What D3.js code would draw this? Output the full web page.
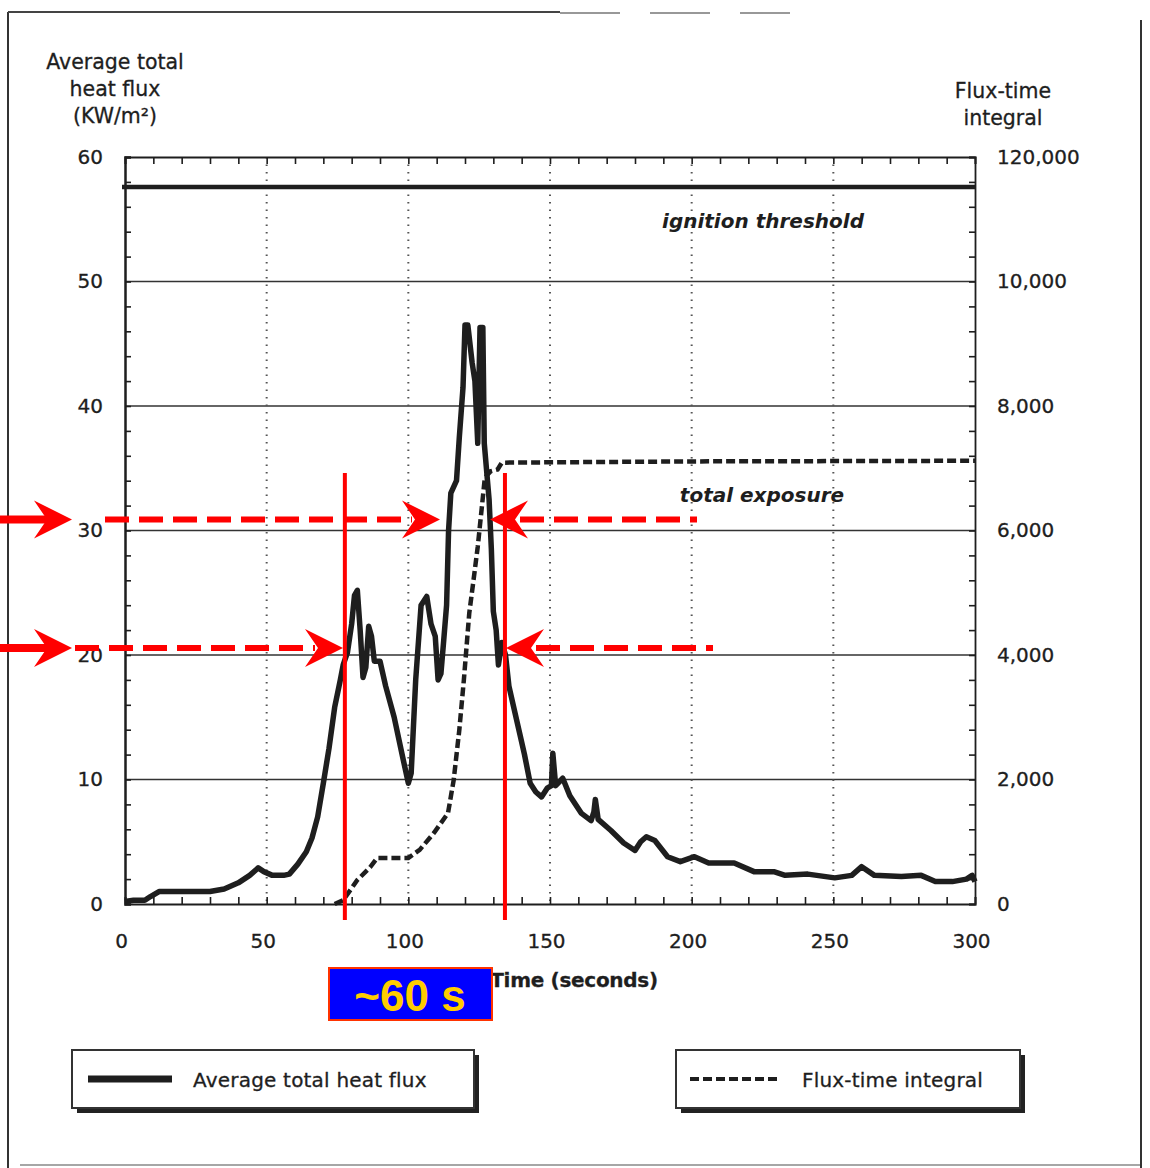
<!DOCTYPE html>
<html><head><meta charset="utf-8">
<script src="https://cdn.jsdelivr.net/npm/d3@7"></script>
<style>
html,body{margin:0;padding:0;background:#fff;}
svg{display:block;font-family:"DejaVu Sans",sans-serif;}
</style></head>
<body><svg id="c" width="1150" height="1168"></svg>
<script>
// ---- data ----
const fluxTime = [0,3,7,9,12,20,30,35,40,44,47,49,52,56,58,61,64,66,68,70,72,74,76,77,78.5,80,81,82,83,84,85,86,87,88,90,92,95,98,100,101,102.6,104.5,106.5,108,109.5,110.5,111.5,112.5,113.5,114.2,115,117,118,119.3,120,121,122.5,123.5,124.5,125.3,126.3,126.8,128.5,129.3,130,131,131.8,133,134.3,135.5,137,139.5,141,143,145,147,149,150.5,151,152,154.5,157,161,164.5,165.5,166,167,171.5,176,180,182,184,187,191.5,196,201,206,215,222,229,233,241,250.5,256.5,260,264.5,274,281,286,292,297,299,300];
const fluxValues = [0.2,0.3,0.3,0.6,1.0,1.0,1.0,1.2,1.7,2.3,2.9,2.6,2.3,2.3,2.4,3.2,4.2,5.3,7.0,9.7,12.5,15.8,18,19.2,20.2,22.5,24.8,25.2,22,18.2,19,22.3,21.5,19.5,19.5,17.5,15,11.8,9.7,10.5,18,24,24.7,22.5,21.5,18,18.5,21.2,24,30,33,34,37.5,41.5,46.5,46.5,43.5,42,37,46.3,46.3,37,32.5,28.5,23.5,22,19.2,21,20,17.5,16,13.5,12,9.7,9,8.6,9.3,9.5,12.1,9.5,10.1,8.7,7.3,6.7,7.4,8.4,6.8,5.9,4.9,4.3,5.0,5.4,5.1,3.8,3.4,3.8,3.3,3.3,2.6,2.6,2.3,2.4,2.1,2.3,3.0,2.3,2.2,2.3,1.8,1.8,2.0,2.3,1.8];
const integralTime = [74,77,82,86.5,89,100,104,109,114,116,118,119.6,121.5,123,124.5,126,127,129,131.5,133,200,300];
const integralValues = [0,60,385,590,740,740,870,1140,1460,1990,2800,3600,4670,5200,5740,6400,6850,6950,6980,7090,7110,7120];
const ignitionThreshold = 57.6;
const xTicks = [0,50,100,150,200,250,300];
const leftTicks = [0,10,20,30,40,50,60];
const rightTicks = [0,2000,4000,6000,8000,10000,12000];
const rightTickLabels = ["0","2,000","4,000","6,000","8,000","10,000","120,000"];
const gridLeft = [10,20,30,40,50];
const gridTime = [50,100,150,200,250];
const leftTitle = ["Average total","heat flux","(KW/m\u00B2)"];
const rightTitle = ["Flux-time","integral"];
const legendLabels = ["Average total heat flux","Flux-time integral"];
const annotationRows = [30,20];        // heat flux levels marked with red arrows
const annotationTimes = [77.6,134.1];  // red vertical lines (~60 s)

// ---- layout ----
const svg = d3.select("#c");
const ink = "#1e1e1e";
const X0 = 125, X1 = 975, Y0 = 904, Y1 = 157;
const x = d3.scaleLinear().domain([0,300]).range([X0,X1]);
const y = d3.scaleLinear().domain([0,60]).range([Y0,Y1]);
const yR = d3.scaleLinear().domain([0,12000]).range([Y0,Y1]);

// outer frame (scan border)
svg.append("line").attr("x1",8).attr("x2",8).attr("y1",12).attr("y2",1168).attr("stroke","#333").attr("stroke-width",2);
svg.append("line").attr("x1",1141).attr("x2",1141).attr("y1",20).attr("y2",1168).attr("stroke","#333").attr("stroke-width",2);
svg.append("line").attr("x1",8).attr("x2",560).attr("y1",12).attr("y2",12).attr("stroke","#444").attr("stroke-width",2);
svg.append("line").attr("x1",560).attr("x2",790).attr("y1",13).attr("y2",13).attr("stroke","#777").attr("stroke-width",1.5).attr("stroke-dasharray","60,30");
svg.append("line").attr("x1",20).attr("x2",1140).attr("y1",1165).attr("y2",1165).attr("stroke","#888").attr("stroke-width",1.5);

// grid
svg.append("g").selectAll("line").data(gridLeft).join("line")
  .attr("x1",X0).attr("x2",X1).attr("y1",d=>y(d)).attr("y2",d=>y(d))
  .attr("stroke","#333").attr("stroke-width",1.6);
svg.append("g").selectAll("line").data(gridTime).join("line")
  .attr("x1",d=>x(d)).attr("x2",d=>x(d)).attr("y1",Y1).attr("y2",Y0)
  .attr("stroke","#555").attr("stroke-width",2).attr("stroke-dasharray","1.5,6");

// axes
const minorT = d3.range(0,301,10), minorL = d3.range(0,61,2), minorR = d3.range(0,12001,400);
const gL = svg.append("g").attr("transform",`translate(${X0},0)`)
  .call(d3.axisRight(y).tickValues(minorL).tickSize(6).tickFormat(""));
const gR = svg.append("g").attr("transform",`translate(${X1},0)`)
  .call(d3.axisLeft(yR).tickValues(minorR).tickSize(6).tickFormat(""));
const gT = svg.append("g").attr("transform",`translate(0,${Y1})`)
  .call(d3.axisBottom(x).tickValues(minorT).tickSize(7).tickFormat(""));
const gB = svg.append("g").attr("transform",`translate(0,${Y0})`)
  .call(d3.axisTop(x).tickValues(minorT).tickSize(7).tickFormat(""));
[gL,gR,gT,gB].forEach(g=>{
  g.selectAll("line").attr("stroke",ink).attr("stroke-width",1.6);
  g.select(".domain").attr("stroke",ink).attr("stroke-width",1.8);
});
gL.select(".domain").attr("stroke-width",2.5);

// tick labels
const FONT = "'DejaVu Sans',sans-serif";
const lab = svg.append("g").attr("transform",`translate(${X0},0)`)
  .call(d3.axisLeft(y).tickValues(leftTicks).tickSize(0).tickPadding(22).tickFormat(d3.format("d")));
lab.select(".domain").remove();
const labR = svg.append("g").attr("transform",`translate(${X1},0)`)
  .call(d3.axisRight(yR).tickValues(rightTicks).tickSize(0).tickPadding(22).tickFormat((d,i)=>rightTickLabels[i]));
labR.select(".domain").remove();
const labB = svg.append("g").attr("transform",`translate(-4,${Y0})`)
  .call(d3.axisBottom(x).tickValues(xTicks).tickSize(0).tickPadding(30).tickFormat(d3.format("d")));
labB.select(".domain").remove();
[lab,labR,labB].forEach(g=>g.selectAll("text").attr("font-size",20).attr("fill",ink)
  .attr("font-family",FONT).attr("letter-spacing","0").attr("stroke",ink).attr("stroke-width",0.3));

// axis titles
const t = svg.append("g").attr("fill",ink).attr("font-size",20.5).attr("letter-spacing","0").attr("stroke",ink).attr("stroke-width",0.3);
t.selectAll("text.l").data(leftTitle).join("text").attr("class","l")
  .attr("x",115).attr("y",(d,i)=>69+i*27).attr("text-anchor","middle").text(d=>d);
t.selectAll("text.r").data(rightTitle).join("text").attr("class","r")
  .attr("x",1003).attr("y",(d,i)=>98+i*27).attr("text-anchor","middle").text(d=>d);
t.append("text").attr("x",574).attr("y",987).attr("text-anchor","middle").attr("font-size",20).attr("font-weight","bold").attr("letter-spacing","-0.3").text("Time (seconds)");

// ignition threshold
svg.append("line").attr("x1",x(0)-3).attr("x2",X1).attr("y1",y(ignitionThreshold)).attr("y2",y(ignitionThreshold))
  .attr("stroke",ink).attr("stroke-width",4.5);
svg.append("text").attr("x",763).attr("y",228).attr("text-anchor","middle").attr("font-size",20)
  .attr("font-style","italic").attr("font-weight","bold").attr("fill",ink).attr("letter-spacing","0").text("ignition threshold");
svg.append("text").attr("x",762).attr("y",502).attr("text-anchor","middle").attr("font-size",20)
  .attr("font-style","italic").attr("font-weight","bold").attr("fill",ink).attr("letter-spacing","0").text("total exposure");

// series
const fluxData = fluxTime.map((d,i)=>[d,fluxValues[i]]);
const intData = integralTime.map((d,i)=>[d,integralValues[i]]);
svg.append("path").datum(intData)
  .attr("d",d3.line().x(d=>x(d[0])).y(d=>yR(d[1])))
  .attr("fill","none").attr("stroke",ink).attr("stroke-width",4.5).attr("stroke-dasharray","9,4");
svg.append("path").datum(fluxData)
  .attr("d",d3.line().x(d=>x(d[0])).y(d=>y(d[1])))
  .attr("fill","none").attr("stroke",ink).attr("stroke-width",5.5).attr("stroke-linejoin","round");

// legends
function legendBox(x0,y0,w,h){
  svg.append("rect").attr("x",x0+5).attr("y",y0+5).attr("width",w).attr("height",h).attr("fill","#222");
  svg.append("rect").attr("x",x0).attr("y",y0).attr("width",w).attr("height",h).attr("fill","#fff").attr("stroke","#333").attr("stroke-width",2);
}
legendBox(72,1050,402,58);
svg.append("line").attr("x1",88).attr("x2",172).attr("y1",1079).attr("y2",1079).attr("stroke",ink).attr("stroke-width",7);
svg.append("text").attr("x",193).attr("y",1087).attr("font-size",20).attr("fill",ink).attr("letter-spacing","0.2")
  .attr("stroke",ink).attr("stroke-width",0.3).text(legendLabels[0]);
legendBox(676,1050,344,58);
svg.append("line").attr("x1",690).attr("x2",778).attr("y1",1079).attr("y2",1079).attr("stroke",ink).attr("stroke-width",4).attr("stroke-dasharray","9,4");
svg.append("text").attr("x",802).attr("y",1087).attr("font-size",20).attr("fill",ink).attr("letter-spacing","0.2")
  .attr("stroke",ink).attr("stroke-width",0.3).text(legendLabels[1]);

// red annotations
const red = "#ff0000";
const ann = svg.append("g");
function head(tipX,yy,dir){
  const p = [[tipX,yy],[tipX-dir*38,yy-19],[tipX-dir*25,yy],[tipX-dir*38,yy+19]];
  ann.append("path").attr("d","M"+p.map(q=>q.join(",")).join("L")+"Z").attr("fill",red);
}
function dashed(xa,xb,yy){
  ann.append("line").attr("x1",xa).attr("x2",xb).attr("y1",yy).attr("y2",yy)
    .attr("stroke",red).attr("stroke-width",6).attr("stroke-dasharray","24,10");
}
annotationTimes.forEach(tt=>{
  ann.append("line").attr("x1",x(tt)).attr("x2",x(tt)).attr("y1",473).attr("y2",920).attr("stroke",red).attr("stroke-width",4);
});
const r1 = y(annotationRows[0])-11, r2 = y(annotationRows[1])-7;
[r1,r2].forEach(yy=>{
  ann.append("rect").attr("x",0).attr("y",yy-4).attr("width",50).attr("height",8).attr("fill",red);
  head(72,yy,1);
});
dashed(105,412,r1); head(440,r1,1);
dashed(520,697,r1); head(490,r1,-1);
dashed(75,315,r2);  head(343,r2,1);
dashed(536,713,r2); head(506,r2,-1);

// ~60 s box
svg.append("rect").attr("x",329).attr("y",968).attr("width",163).attr("height",52)
  .attr("fill","#0000ff").attr("stroke","#ff3300").attr("stroke-width",2);
svg.append("text").attr("x",410).attr("y",1011).attr("text-anchor","middle").attr("font-size",44)
  .attr("font-family","'Liberation Sans',Arial,sans-serif")
  .attr("font-weight","bold").attr("fill","#ffcc00").text("~60 s");
</script></body></html>
